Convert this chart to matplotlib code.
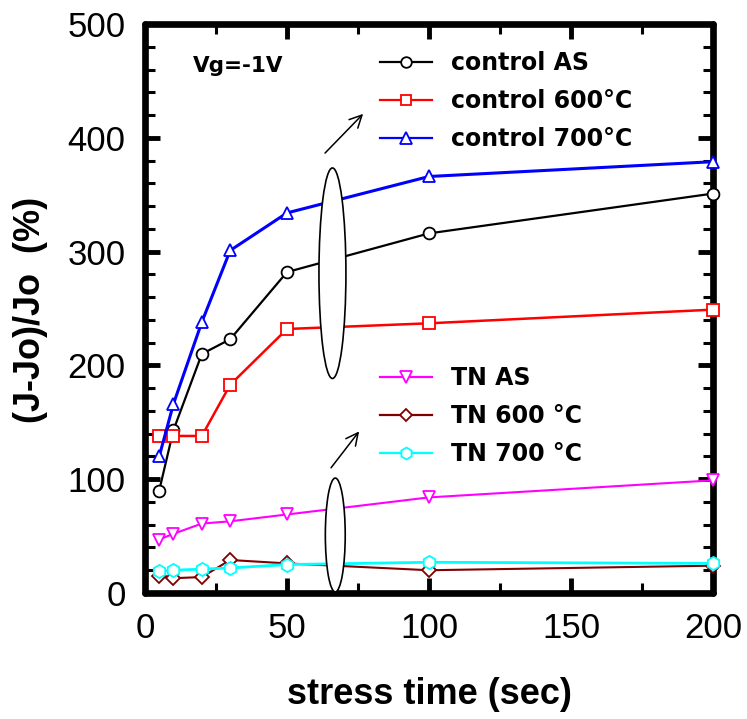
import matplotlib
matplotlib.use("Agg")
import matplotlib.pyplot as plt
from matplotlib.patches import Ellipse
from matplotlib.lines import Line2D
from matplotlib.ticker import MultipleLocator

# stress time (sec)
stress_time = [5, 10, 20, 30, 50, 100, 200]

# (J-Jo)/Jo in %
control_as = [90, 143, 210, 223, 282, 316, 351]
control_600 = [138, 138, 138, 183, 232, 237, 249]
control_700 = [120, 166, 238, 301, 334, 366, 379]
tn_as = [47, 52, 61, 63, 69, 84, 99]
tn_600 = [15, 13, 14, 29, 26, 20, 24]
tn_700 = [19, 20, 21, 22, 25, 27, 26]

labels_control = ["control AS", "control 600\u00b0C", "control 700\u00b0C"]
labels_tn = ["TN AS", "TN 600 \u00b0C", "TN 700 \u00b0C"]

W, H = 747, 719
fig = plt.figure(figsize=(W / 100, H / 100), dpi=100)
ax = fig.add_axes([145 / W, 1 - 593 / H, 568 / W, 569 / H])

tick_font = "Liberation Sans"

series = [
    (control_as, "black", "o", 8.5, 1.6),
    (control_600, "red", "s", 8.5, 1.8),
    (control_700, "blue", "^", 9, 2.2),
    (tn_as, "magenta", "v", 9, 1.5),
    (tn_600, "#800000", "D", 7, 1.5),
    (tn_700, "cyan", "h", 9.5, 2.0),
]
handles = []
for vals, col, mk, ms, lw in series:
    ax.plot(stress_time, vals, color=col, lw=lw, marker=mk, ms=ms,
            mfc="white", mec=col, mew=1.3, zorder=6, clip_on=False)
    handles.append(Line2D([], [], color=col, lw=1.6, marker=mk, ms=ms * 0.9,
                          mfc="white", mec=col, mew=1.3))

# grouping ellipses with white fill
ax.add_patch(Ellipse((66, 281), 9.5, 185, facecolor="white",
                     edgecolor="black", lw=1.2, zorder=7))
ax.add_patch(Ellipse((67, 51), 7, 100, facecolor="white",
                     edgecolor="black", lw=1.2, zorder=7))

arrow_kw = dict(arrowstyle="->", lw=1.1, color="black", mutation_scale=22,
                shrinkA=0, shrinkB=0)
ax.annotate("", xy=(76.8, 421), xytext=(63.4, 386.6), arrowprops=arrow_kw)
ax.annotate("", xy=(75.4, 142), xytext=(65.5, 110), arrowprops=arrow_kw)

ax.text(0.0845, 0.9156, "Vg=-1V", transform=ax.transAxes,
        fontsize=15.5, fontweight="bold", family="DejaVu Sans",
        ha="left", va="baseline")

leg_kw = dict(frameon=False, loc="upper left", borderpad=0, borderaxespad=0,
              handlelength=2.2, handletextpad=0.8, labelspacing=0.6,
              numpoints=1, prop=dict(family="DejaVu Sans", weight="bold", size=17))
leg1 = ax.legend(handles[:3], labels_control,
                 bbox_to_anchor=(380 / W, 1 - 51 / H),
                 bbox_transform=fig.transFigure, **leg_kw)
ax.add_artist(leg1)
ax.legend(handles[3:], labels_tn,
          bbox_to_anchor=(380 / W, 1 - 366 / H),
          bbox_transform=fig.transFigure, **leg_kw)

ax.set_xlim(0, 200)
ax.set_ylim(0, 500)
ax.xaxis.set_major_locator(MultipleLocator(50))
ax.xaxis.set_minor_locator(MultipleLocator(25))
ax.yaxis.set_major_locator(MultipleLocator(100))
ax.yaxis.set_minor_locator(MultipleLocator(20))

for sp in ax.spines.values():
    sp.set_linewidth(4.8)
    sp.set_capstyle("round")
    sp.set_zorder(5)

ax.tick_params(which="both", direction="in", top=True, right=True)
ax.tick_params(which="major", length=11, width=3.5, pad=14,
               labelsize=25)
ax.tick_params(which="minor", length=7, width=2.2)
for lab in ax.get_xticklabels() + ax.get_yticklabels():
    lab.set_family(tick_font)

ax.set_xlabel("stress time (sec)", fontsize=26, fontweight="bold",
              family=tick_font)
ax.set_ylabel("(J-Jo)/Jo  (%)", fontsize=26, fontweight="bold",
              family=tick_font)
ax.xaxis.set_label_coords(0.5, -0.148)
ax.yaxis.set_label_coords(-0.171, 0.497)

fig.savefig("out.png", dpi=100)
